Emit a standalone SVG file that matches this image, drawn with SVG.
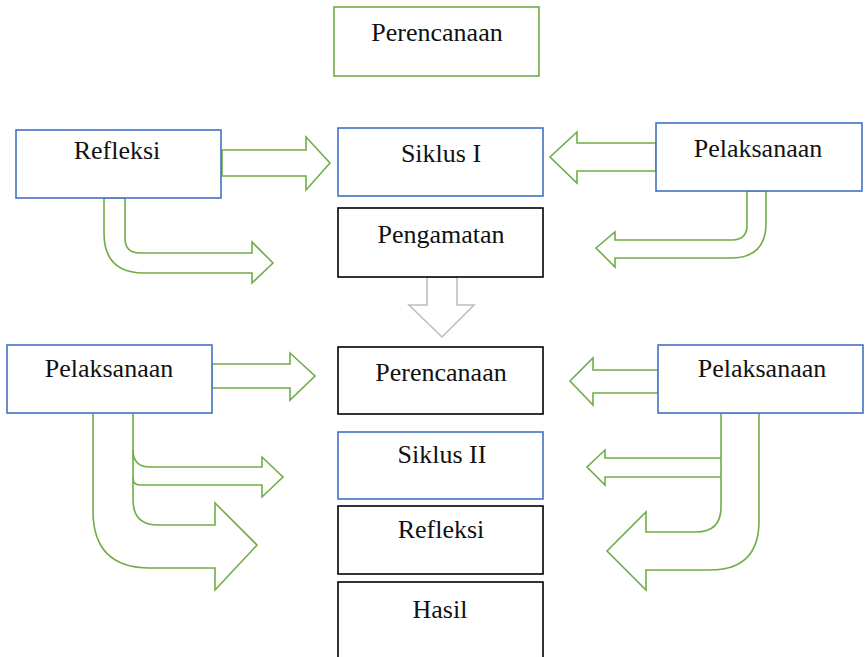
<svg xmlns="http://www.w3.org/2000/svg" width="867" height="657" viewBox="0 0 867 657">
<style>
.box{fill:#fff;stroke-width:1.6}
.g{stroke:#70ad47}
.b{stroke:#4472c4}
.k{stroke:#000}
.t{font-family:'Liberation Serif','Times New Roman',serif;font-size:26px;fill:#111;text-anchor:middle}
.ar{fill:#fff;stroke:#70ad47;stroke-width:1.6;stroke-linejoin:miter}
.ln{fill:none;stroke:#70ad47;stroke-width:1.6}
</style>
<rect width="867" height="657" fill="#fff"/>
<g id="connectors">
<path id="a1" class="ar" d="M222,150 L306,150 L306,137 L330,163 L306,190 L306,176 L222,176 Z"/>
<path id="a2" class="ar" d="M656,143 L577,143 L577,132 L550,157 L577,183 L577,171 L656,171 Z"/>
<path id="a3" class="ar" d="M104,198 L125,198 L125,238 Q125,253 140,253 L252,253 L252,242 L273,263 L252,283 L252,273 L144,273 Q104,273 104,233 Z"/>
<path id="a4" class="ar" d="M766,191 L747,191 L747,225 Q747,240 732,240 L615,240 L615,232 L596,248 L615,267 L615,258 L731,258 Q766,258 766,223 Z"/>
<path id="a5" class="ar" d="M427,277 L457,277 L457,305 L474,305 L442,337 L409,305 L427,305 Z" style="stroke:#bfbfbf"/>
<path id="a6" class="ar" d="M212,364 L290,364 L290,353 L315,376 L290,400 L290,388 L212,388 Z"/>
<path id="a7" class="ar" d="M658,370 L593,370 L593,358 L570,381 L593,405 L593,393 L658,393 Z"/>
<path id="a8" class="ar" d="M93,411 L133,411 L133,500 Q133,525 158,525 L215,525 L215,503 L257,545 L215,590 L215,568 L150,568 Q93,568 93,511 Z"/>
<path id="a9" class="ln" d="M133,450 Q133,467 150,467 L262,467 L262,457 L283,477 L262,497 L262,485 L140,485 Q133,485 133,478"/>
<path id="a10" class="ar" d="M759,413 L721,413 L721,507 Q721,532 696,532 L646,532 L646,512 L607,551 L646,590 L646,570 L710,570 Q759,570 759,521 Z"/>
<path id="a11" class="ln" d="M721,458 L605,458 L605,450 L587,467 L605,485 L605,477 L721,477"/>
<path class="ln" d="M736,411 L756,411" style="stroke-width:3"/>
</g>
<g id="n1"><rect class="box g" x="334" y="7" width="205" height="69"/><text class="t" x="437" y="41">Perencanaan</text></g>
<g id="n2"><rect class="box b" x="338" y="128" width="205" height="68"/><text class="t" x="441" y="162">Siklus I</text></g>
<g id="n3"><rect class="box k" x="338" y="208" width="205" height="69"/><text class="t" x="441" y="243">Pengamatan</text></g>
<g id="n4"><rect class="box b" x="16" y="130" width="205" height="68"/><text class="t" x="117" y="159">Refleksi</text></g>
<g id="n5"><rect class="box b" x="656" y="123" width="206" height="68"/><text class="t" x="758" y="157">Pelaksanaan</text></g>
<g id="n6"><rect class="box k" x="338" y="347" width="205" height="67"/><text class="t" x="441" y="381">Perencanaan</text></g>
<g id="n7"><rect class="box b" x="338" y="432" width="205" height="67"/><text class="t" x="442" y="463">Siklus II</text></g>
<g id="n8"><rect class="box k" x="338" y="506" width="205" height="68"/><text class="t" x="441" y="538">Refleksi</text></g>
<g id="n9"><rect class="box k" x="338" y="582" width="205" height="100"/><text class="t" x="440" y="618">Hasil</text></g>
<g id="n10"><rect class="box b" x="7" y="345" width="205" height="68"/><text class="t" x="109" y="377">Pelaksanaan</text></g>
<g id="n11"><rect class="box b" x="658" y="345" width="205" height="68"/><text class="t" x="762" y="377">Pelaksanaan</text></g>
</svg>
